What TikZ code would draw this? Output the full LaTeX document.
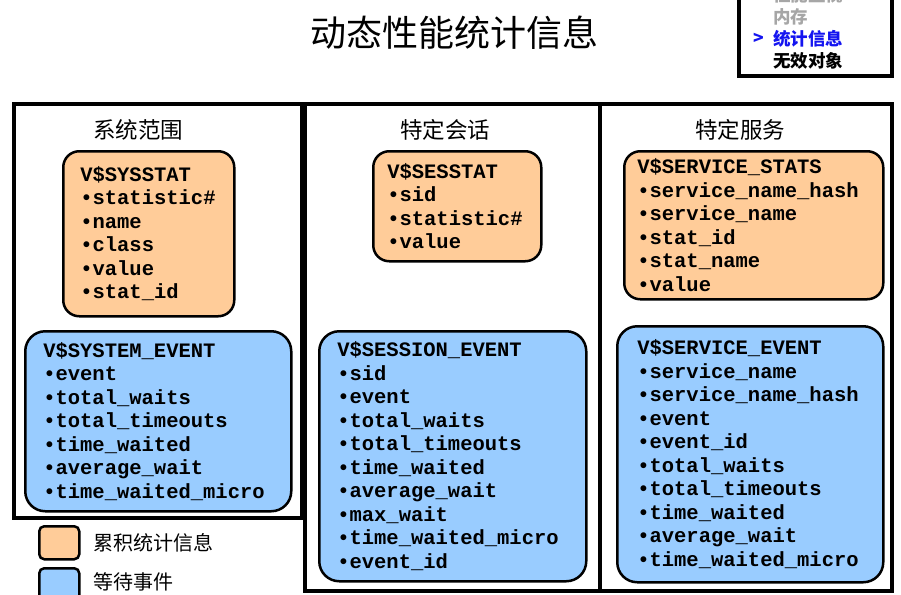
\documentclass[tikz,border=0pt]{standalone}
\usepackage{fontspec}
\newfontfamily\cjk{Noto Sans CJK SC}
\newfontfamily\mono{Liberation Mono}
\usetikzlibrary{positioning}
\definecolor{statfill}{HTML}{FFCC99}
\definecolor{waitfill}{HTML}{99CCFF}
\definecolor{menugrey}{HTML}{A6A6A6}
\definecolor{menublue}{HTML}{1414F0}

\begin{document}
\begin{tikzpicture}[
  x=1pt, y=-1pt,
  panel/.style={draw=black, line width=3.5pt},
  view/.style={
    draw=black,
    line width=2.5pt,
    rounded corners=16pt,
    anchor=north west,
    align=left,
    inner xsep=17pt,
    inner ysep=0pt,
    font=\mono\bfseries\fontsize{20.5}{23.5}\selectfont
  },
  stat/.style={view, fill=statfill},
  wait/.style={view, fill=waitfill, rounded corners=20pt},
  scopehead/.style={font=\cjk\fontsize{22.5}{26}\selectfont},
  menuitem/.style={anchor=west, inner sep=0pt, font=\cjk\bfseries\fontsize{17.5}{20}\selectfont},
  key/.style={draw=black, line width=2.5pt, rounded corners=5pt, anchor=north west,
    minimum width=40pt, minimum height=33pt, inner sep=0pt},
  keytext/.style={anchor=west, inner sep=0pt, font=\cjk\fontsize{20}{24}\selectfont}
]
\useasboundingbox (0,0) rectangle (901,594);
\clip (0,0) rectangle (901,594);

\node[font=\cjk\fontsize{36}{40}\selectfont] (title) at (454,33) {动态性能统计信息};

% navigation box, top right
\draw[line width=4pt] (739,-10) rectangle (892,76);
\node[menuitem, menugrey] (navPerf) at (773,-5) {性能监视};
\node[menuitem, menugrey] (navMem) at (773,17) {内存};
\node[menuitem, menublue] (navStat) at (773,39) {统计信息};
\node[menuitem, menublue, left=9pt of navStat] (navMark) {>};
\node[menuitem] (navObj) at (773,61) {无效对象};

% three scopes
\draw[panel] (14,104) rectangle (302,518);
\draw[panel] (305,104) rectangle (600,591);
\draw[panel] (600,104) rectangle (892,591);

\node[scopehead] (sysHead) at (138,130) {系统范围};
\node[scopehead] (sesHead) at (445,130) {特定会话};
\node[scopehead] (svcHead) at (740,130) {特定服务};

\node[stat, text width=137pt, minimum height=165pt] (sysstat) at (62,150)
  {V\$SYSSTAT\\•statistic\#\\•name\\•class\\•value\\•stat\_id};
\node[wait, text width=230pt, minimum height=180pt, inner xsep=18pt] (sysevent) at (24,330)
  {V\$SYSTEM\_EVENT\\•event\\•total\_waits\\•total\_timeouts\\•time\_waited\\•average\_wait\\•time\_waited\_micro};

\node[stat, text width=140pt, minimum height=110pt, inner xsep=14pt] (sesstat) at (372,150)
  {V\$SESSTAT\\•sid\\•statistic\#\\•value};
\node[wait, text width=231pt, minimum height=250pt, inner xsep=18pt] (sesevent) at (318,330)
  {V\$SESSION\_EVENT\\•sid\\•event\\•total\_waits\\•total\_timeouts\\•time\_waited\\•average\_wait\\•max\_wait\\•time\_waited\_micro\\•event\_id};

\node[stat, text width=233pt, minimum height=148pt, inner xsep=13pt] (svcstat) at (623,150)
  {V\$SERVICE\_STATS\\•service\_name\_hash\\•service\_name\\•stat\_id\\•stat\_name\\•value};
\node[wait, text width=226pt, minimum height=256pt, inner xsep=20pt] (svcevent) at (616,325)
  {V\$SERVICE\_EVENT\\•service\_name\\•service\_name\_hash\\•event\\•event\_id\\•total\_waits\\•total\_timeouts\\•time\_waited\\•average\_wait\\•time\_waited\_micro};

% legend
\node[key, fill=statfill] (keyStat) at (38,525) {};
\node[keytext] (keyStatText) at (93,543) {累积统计信息};
\node[key, fill=waitfill] (keyWait) at (38,567) {};
\node[keytext] (keyWaitText) at (93,582) {等待事件};

\end{tikzpicture}
\end{document}
